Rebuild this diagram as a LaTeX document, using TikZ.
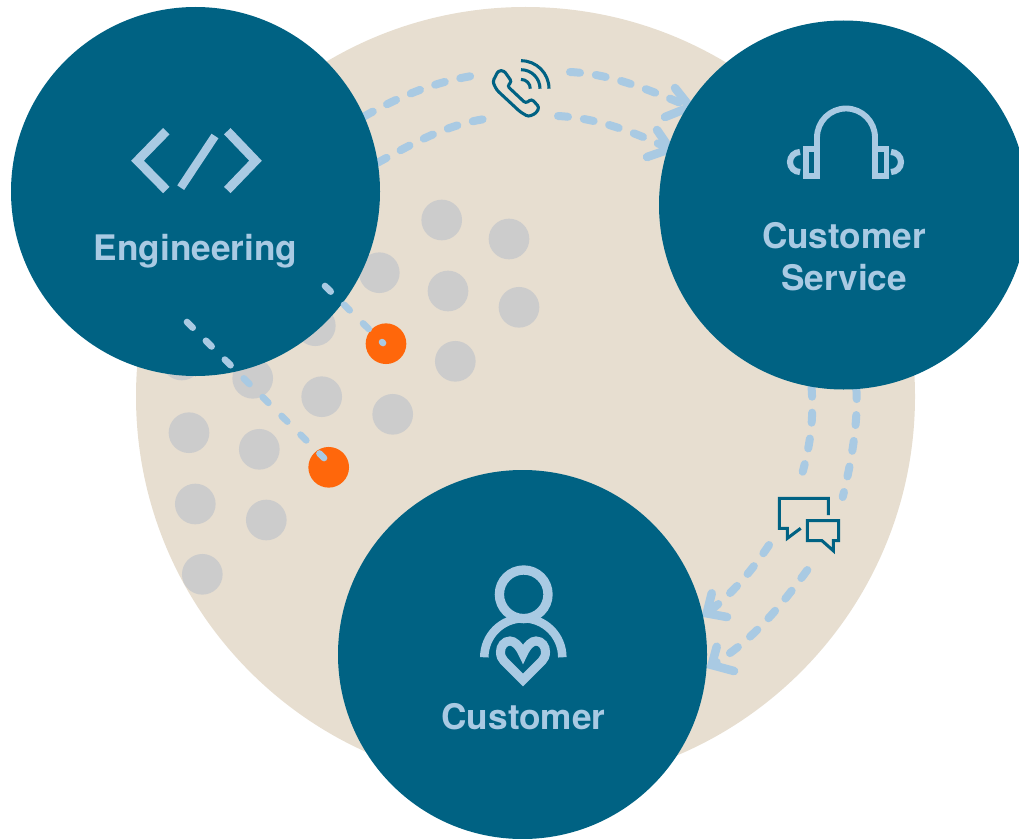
\documentclass[tikz,border=0pt]{standalone}
\usepackage{fontspec}
\setmainfont{TeX Gyre Heros}
\usetikzlibrary{arrows.meta}
\definecolor{teal}{HTML}{006283}
\definecolor{sand}{HTML}{E7DED0}
\definecolor{dot}{HTML}{CCCCCC}
\definecolor{hot}{HTML}{FF670B}
\definecolor{sky}{HTML}{A9CAE3}
\pgfdeclarelayer{base}
\pgfdeclarelayer{links}
\pgfsetlayers{base,links,main}
\tikzset{
  big/.style={circle,fill=teal,draw=none,inner sep=0,outer sep=0,minimum size=276.75pt},
  graydot/.style={circle,fill=dot,draw=none,inner sep=0,outer sep=0,minimum size=30.5pt},
  hotdot/.style={circle,fill=hot,draw=none,inner sep=0,outer sep=0,minimum size=30.5pt},
  lbl/.style={text=sky,font=\fontsize{26.4pt}{32pt}\selectfont\bfseries,inner sep=0,anchor=base},
  flow/.style={draw=sky,line width=6pt,line cap=round,dash pattern=on 7.5pt off 12pt},
  chevron/.style={draw=sky,line width=6.4pt,line cap=round,line join=miter},
  tie/.style={draw=sky,line width=5pt,line cap=round,dash pattern=on 6pt off 14pt},
  iconlight/.style={draw=sky,line width=6.6pt,fill=none},
  icondark/.style={draw=teal,line width=2.3pt,fill=none}
}
\begin{document}
\begin{tikzpicture}[x=1pt,y=1pt,xscale=.75,yscale=-.75]
\useasboundingbox (0,0) rectangle (1019,838);
\begin{pgfonlayer}{base}
\fill[sand] (525.5,396.5) circle[radius=389.5];
\foreach \i/\x/\y in {1/441.7/220,2/509/239,3/379.3/272.7,4/448/291,5/519/307.3,6/315.3/325.7,7/455.3/361.3,8/252.7/378.3,9/181.7/360,10/321.7/396.7,11/392.7/414.3,12/189/432.7,13/259.3/449.3,14/195.3/504,15/266.3/520,16/202.3/574.3}
  \node[graydot] (g\i) at (\x,\y) {};
\node[hotdot] (hotA) at (386,343.7) {};
\node[hotdot] (hotB) at (328.7,467.3) {};
\end{pgfonlayer}
% teal circles
\node[big] (eng) at (195.5,191.5) {};
\node[big] (cs) at (843.5,205) {};
\node[big] (cu) at (522.5,654.5) {};
% labels
\node[lbl] (englbl) at (195.5,260) {Engineering};
\node[lbl] (cslbl) at (844,248) {Customer};
\node[lbl] (cslblb) at (844,290) {Service};
\node[lbl] (culbl) at (523.5,729) {Customer};
% free ends beside the two icons, and arrow-head ends
\coordinate (phoneL1) at (472,76);
\coordinate (phoneR1) at (570,72);
\coordinate (phoneL2) at (485,119);
\coordinate (phoneR2) at (558,116);
\coordinate (chatT1) at (802.7,471.7);
\coordinate (chatB1) at (769,545);
\coordinate (chatT2) at (842.7,497);
\coordinate (chatB2) at (807.3,570);
\coordinate (tipA) at (690,107);
\coordinate (tipAa) at (675,88);
\coordinate (tipAb) at (665,117);
\coordinate (tipB) at (670,149);
\coordinate (tipBa) at (657,130);
\coordinate (tipBb) at (647,157);
\coordinate (tipC) at (706.7,613.3);
\coordinate (tipCa) at (711.7,593.3);
\coordinate (tipCb) at (727,617);
\coordinate (tipD) at (711.7,665);
\coordinate (tipDa) at (716.7,646.7);
\coordinate (tipDb) at (734,671);
\begin{pgfonlayer}{links}
\draw[flow] (eng.24) .. controls (400,96) and (435,82) .. (phoneL1);
\draw[flow] (phoneR1) .. controls (610,74) and (645,88) .. (tipA);
\draw[chevron] (tipAa) -- (tipA) -- (tipAb);
\draw[flow] (eng.9) .. controls (410,145) and (445,125) .. (phoneL2);
\draw[flow] (phoneR2) .. controls (595,118) and (630,130) .. (tipB);
\draw[chevron] (tipBa) -- (tipB) -- (tipBb);
\draw[flow] (cs.260.5) .. controls (814,420) and (810,445) .. (chatT1);
\draw[flow] (chatB1) .. controls (755,566) and (735,592) .. (tipC);
\draw[chevron] (tipCa) -- (tipC) -- (tipCb);
\draw[flow] (cs.274.4) .. controls (858,420) and (853,455) .. (chatT2);
\draw[flow] (chatB2) .. controls (785,600) and (755,640) .. (tipD);
\draw[chevron] (tipDa) -- (tipD) -- (tipDb);
\end{pgfonlayer}
% ties over the circles
\coordinate (tieA) at (187,322);
\coordinate (tieAe) at (324,458);
\coordinate (tieB) at (325,286);
\coordinate (tieBe) at (383,343);
\draw[tie] (tieA) -- (tieAe);
\draw[tie] (tieB) -- (tieBe);
% code icon
\draw[iconlight,line width=6.8pt] (166.3,131.2) -- (137.5,160.7) -- (166.3,190);
\draw[iconlight,line width=6.2pt] (215,136) -- (180.7,187.7);
\draw[iconlight,line width=6.8pt] (227.3,131.2) -- (255.5,160.7) -- (227.3,190);
% headset
\draw[iconlight,line width=4.4pt] (817,147) -- (817,137.5) arc[start angle=180,end angle=360,radius=29] -- (875,147);
\draw[iconlight,line width=4.4pt] (805.8,148.8) rectangle (817,175.7);
\draw[iconlight,line width=4.4pt] (875.3,148.8) rectangle (886.5,175.7);
\draw[iconlight,line width=4.6pt] (800,152) arc[start angle=270,end angle=90,radius=10];
\draw[iconlight,line width=4.6pt] (891,152) arc[start angle=-90,end angle=90,radius=10];
% person
\draw[iconlight,line width=7pt] (523.7,594.3) circle[radius=24.3];
\draw[iconlight,line width=6.4pt] (484.3,657.3) arc[start angle=180,end angle=360,radius=39];
\draw[iconlight,line width=6.8pt,miter limit=10] (523,654) .. controls (519,645) and (514,641) .. (510,641) .. controls (504,641) and (500.5,646.5) .. (500.5,652) .. controls (500.5,656) and (502,659) .. (504,661) -- (523,680) -- (542,661) .. controls (544,659) and (545.5,656) .. (545.5,652) .. controls (545.5,646.5) and (542,641) .. (536,641) .. controls (532,641) and (527,645) .. (523,654) -- cycle;
% phone
\draw[icondark,rounded corners=2pt] (498.3,70.7) -- (504,70.7) -- (511.7,81.7) -- (507.3,86) -- (525.7,103.3) -- (531.7,99) -- (539.3,107.3) -- (536,113.3) -- (528.3,116.7) -- (520,111.7) -- (496.7,90) -- (492.7,81.7) -- cycle;
\draw[icondark] (521,60.7) arc[start angle=-90,end angle=0,radius=28];
\draw[icondark] (521,69.7) arc[start angle=-90,end angle=0,radius=19];
\draw[icondark] (521,79.4) arc[start angle=-90,end angle=0,radius=9.3];
% chat
\draw[icondark] (828.3,515) -- (828.3,498.3) -- (779.3,498.3) -- (779.3,528.3) -- (787.3,528.3) -- (787.3,538.3) -- (800.7,528.3);
\draw[icondark] (807.3,520.7) -- (838.7,520.7) -- (838.7,540.7) -- (833.3,540.7) -- (833.3,550.7) -- (822,540.7) -- (807.3,540.7) -- cycle;
\end{tikzpicture}
\end{document}
